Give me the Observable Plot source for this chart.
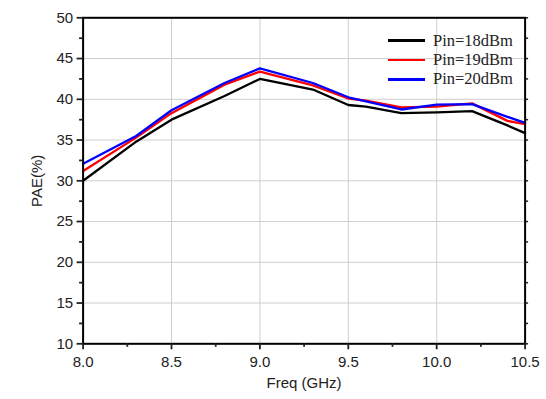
<!DOCTYPE html>
<html><head><meta charset="utf-8">
<script src="https://cdn.jsdelivr.net/npm/d3@7"></script>
<script src="https://cdn.jsdelivr.net/npm/@observablehq/plot@0.6"></script>
<style>
body{margin:0;background:#fff;}
#wrap{position:relative;width:546px;height:399px;}
#legend{position:absolute;left:388px;top:31px;font-family:"Liberation Serif","Times New Roman",serif;font-size:16.5px;color:#222;pointer-events:none;}
#legend .row{display:flex;align-items:center;height:19.3px;}
#legend .sw{width:37px;height:2.6px;margin-right:8px;}
</style></head>
<body><div id="wrap"><div id="legend"></div></div>
<script>
const freq = [8.0, 8.3, 8.5, 8.8, 9.0, 9.3, 9.5, 9.6, 9.8, 10.0, 10.2, 10.4, 10.5];
const pae18 = [30.0, 34.8, 37.5, 40.4, 42.5, 41.2, 39.3, 39.1, 38.3, 38.4, 38.55, 36.8, 35.85];
const pae19 = [31.2, 35.3, 38.3, 41.8, 43.4, 41.7, 40.1, 39.85, 39.0, 39.1, 39.5, 37.35, 36.95];
const pae20 = [32.1, 35.5, 38.65, 42.0, 43.8, 42.0, 40.25, 39.75, 38.75, 39.35, 39.4, 37.85, 37.1];
const seriesNames = ["Pin=18dBm", "Pin=19dBm", "Pin=20dBm"];
const seriesColors = ["#000000", "#ff0000", "#0000ff"];
const xTicks = [8.0, 8.5, 9.0, 9.5, 10.0, 10.5];
const xMinor = [8.25, 8.75, 9.25, 9.75, 10.25];
const yTicks = [10, 15, 20, 25, 30, 35, 40, 45, 50];
const yMinor = [12.5, 17.5, 22.5, 27.5, 32.5, 37.5, 42.5, 47.5];
const xLabel = "Freq (GHz)";
const yLabel = "PAE(%)";

const seriesValues = [pae18, pae19, pae20];
const rows = [];
seriesValues.forEach((vals, i) => vals.forEach((v, j) => rows.push({freq: freq[j], pae: v, series: seriesNames[i]})));

const blank = () => "";
const chart = Plot.plot({
  width: 546, height: 399,
  marginLeft: 82.6, marginRight: 21.4, marginTop: 17.3, marginBottom: 55.7,
  x: {domain: [8, 10.5], label: null},
  y: {domain: [10, 50], label: null},
  color: {domain: seriesNames, range: seriesColors},
  style: {fontFamily: "'Liberation Sans', Arial, sans-serif", fontSize: "15px", color: "#222", background: "white"},
  marks: [
    Plot.gridX(xTicks.slice(1, -1), {stroke: "#cfcfcf", strokeOpacity: 1, strokeWidth: 1}),
    Plot.gridY(yTicks.slice(1, -1), {stroke: "#cfcfcf", strokeOpacity: 1, strokeWidth: 1}),
    Plot.line(rows, {x: "freq", y: "pae", stroke: "series", z: "series", strokeWidth: 2.3}),
    Plot.frame({stroke: "#000", strokeWidth: 2}),
    Plot.axisX(xTicks, {tickSize: 6, tickPadding: 7, strokeWidth: 1.8, tickFormat: d3.format(".1f"), label: xLabel, labelAnchor: "center", labelArrow: "none", labelOffset: 44, fill: "#222"}),
    Plot.axisX(xMinor, {tickSize: 3.5, strokeWidth: 1.8, tickFormat: blank, label: null}),
    Plot.axisY(yTicks, {tickSize: 6, tickPadding: 4, strokeWidth: 1.8, label: yLabel, labelAnchor: "center", labelArrow: "none", labelOffset: 52, fill: "#222"}),
    Plot.axisY(yMinor, {tickSize: 3.5, strokeWidth: 1.8, tickFormat: blank, label: null}),
    Plot.axisY(yTicks.concat(yMinor), {anchor: "right", tickSize: 2.5, strokeWidth: 1.5, tickFormat: blank, label: null})
  ]
});
document.getElementById("wrap").prepend(chart);

const legend = document.getElementById("legend");
seriesNames.forEach((name, i) => {
  const row = document.createElement("div");
  row.className = "row";
  const sw = document.createElement("span");
  sw.className = "sw";
  sw.style.background = seriesColors[i];
  const t = document.createElement("span");
  t.textContent = name;
  row.append(sw, t);
  legend.append(row);
});
</script>
</body></html>
